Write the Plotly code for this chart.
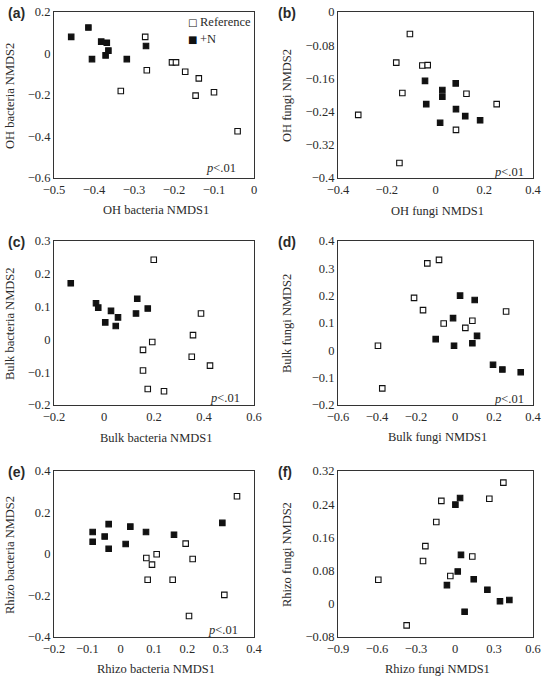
import plotly.graph_objects as go

W, H = 548, 681

# ---------------- data ----------------
# (a) OH bacteria
a_ref_x = [-0.272, -0.268, -0.333, -0.205, -0.195, -0.172, -0.138, -0.146, -0.100, -0.041]
a_ref_y = [0.080, -0.081, -0.181, -0.043, -0.043, -0.088, -0.120, -0.203, -0.187, -0.375]
a_n_x = [-0.457, -0.414, -0.382, -0.368, -0.364, -0.371, -0.405, -0.318, -0.270]
a_n_y = [0.080, 0.125, 0.057, 0.052, 0.014, -0.009, -0.027, -0.027, 0.036]

# (b) OH fungi
b_ref_x = [-0.105, -0.161, -0.054, -0.032, -0.136, 0.127, 0.251, -0.317, 0.084, -0.148]
b_ref_y = [-0.053, -0.122, -0.129, -0.128, -0.195, -0.197, -0.222, -0.248, -0.284, -0.364]
b_n_x = [-0.043, 0.083, 0.028, 0.028, -0.038, 0.084, 0.122, 0.183, 0.019]
b_n_y = [-0.166, -0.172, -0.188, -0.204, -0.222, -0.234, -0.251, -0.261, -0.267]

# (c) Bulk bacteria
c_ref_x = [0.199, 0.388, 0.356, 0.193, 0.156, 0.351, 0.424, 0.156, 0.175, 0.240]
c_ref_y = [0.243, 0.079, 0.013, -0.008, -0.032, -0.053, -0.080, -0.095, -0.151, -0.158]
c_n_x = [-0.133, -0.032, -0.023, 0.028, 0.056, 0.005, 0.047, 0.133, 0.128, 0.175]
c_n_y = [0.171, 0.110, 0.097, 0.087, 0.067, 0.052, 0.041, 0.124, 0.079, 0.094]

# (d) Bulk fungi
d_ref_x = [-0.142, -0.082, -0.210, -0.164, -0.058, 0.053, 0.089, 0.262, -0.395, -0.373]
d_ref_y = [0.318, 0.331, 0.192, 0.147, 0.098, 0.082, 0.108, 0.142, 0.017, -0.139]
d_n_x = [0.026, 0.101, -0.010, 0.113, -0.099, -0.005, 0.089, 0.195, 0.243, 0.337]
d_n_y = [0.200, 0.184, 0.118, 0.053, 0.041, 0.017, 0.026, -0.053, -0.070, -0.080]

# (e) Rhizo bacteria
e_ref_x = [0.349, 0.195, 0.108, 0.077, 0.094, 0.216, 0.081, 0.156, 0.311, 0.205]
e_ref_y = [0.278, 0.050, -0.001, -0.019, -0.051, -0.024, -0.124, -0.124, -0.197, -0.299]
e_n_x = [-0.084, -0.084, -0.048, -0.036, -0.036, 0.029, 0.015, 0.076, 0.160, 0.305]
e_n_y = [0.106, 0.059, 0.084, 0.144, 0.025, 0.132, 0.048, 0.106, 0.093, 0.150]

# (f) Rhizo fungi
f_ref_x = [0.372, 0.264, -0.105, -0.144, -0.228, -0.246, 0.133, -0.036, -0.590, -0.372]
f_ref_y = [0.292, 0.253, 0.248, 0.197, 0.139, 0.103, 0.114, 0.067, 0.058, -0.052]
f_n_x = [0.039, 0.003, 0.046, 0.021, -0.062, 0.144, 0.249, 0.346, 0.418, 0.074]
f_n_y = [0.255, 0.239, 0.118, 0.078, 0.045, 0.059, 0.034, 0.006, 0.009, -0.019]

panel_labels = ["(a)", "(b)", "(c)", "(d)", "(e)", "(f)"]
x_titles = ["OH bacteria NMDS1", "OH fungi NMDS1", "Bulk bacteria NMDS1",
            "Bulk fungi NMDS1", "Rhizo bacteria NMDS1", "Rhizo fungi NMDS1"]
y_titles = ["OH bacteria NMDS2", "OH fungi NMDS2", "Bulk bacteria NMDS2",
            "Bulk fungi NMDS2", "Rhizo bacteria NMDS2", "Rhizo fungi NMDS2"]
sig_labels = ["<i>p</i>&lt;.01", "<i>p</i>&lt;.01", "<i>p</i>&lt;.01",
              "<i>p</i>&lt;.01", "<i>p</i>&lt;.01", ""]
legend_names = ["Reference", "+N"]

a_xt = [-0.5, -0.4, -0.3, -0.2, -0.1, 0]
a_xl = ["−0.5", "−0.4", "−0.3", "−0.2", "−0.1", "0"]
a_yt = [-0.6, -0.4, -0.2, 0, 0.2]
a_yl = ["−0.6", "−0.4", "−0.2", "0", "0.2"]
b_xt = [-0.4, -0.2, 0, 0.2, 0.4]
b_xl = ["−0.4", "−0.2", "0", "0.2", "0.4"]
b_yt = [-0.4, -0.32, -0.24, -0.16, -0.08, 0]
b_yl = ["−0.4", "−0.32", "−0.24", "−0.16", "−0.08", "0"]
c_xt = [-0.2, 0, 0.2, 0.4, 0.6]
c_xl = ["−0.2", "0", "0.2", "0.4", "0.6"]
c_yt = [-0.2, -0.1, 0, 0.1, 0.2, 0.3]
c_yl = ["−0.2", "−0.1", "0", "0.1", "0.2", "0.3"]
d_xt = [-0.6, -0.4, -0.2, 0, 0.2, 0.4]
d_xl = ["−0.6", "−0.4", "−0.2", "0", "0.2", "0.4"]
d_yt = [-0.2, -0.1, 0, 0.1, 0.2, 0.3, 0.4]
d_yl = ["−0.2", "−0.1", "0", "0.1", "0.2", "0.3", "0.4"]
e_xt = [-0.2, -0.1, 0, 0.1, 0.2, 0.3, 0.4]
e_xl = ["−0.2", "−0.1", "0", "0.1", "0.2", "0.3", "0.4"]
e_yt = [-0.4, -0.2, 0, 0.2, 0.4]
e_yl = ["−0.4", "−0.2", "0", "0.2", "0.4"]
f_xt = [-0.9, -0.6, -0.3, 0, 0.3, 0.6]
f_xl = ["−0.9", "−0.6", "−0.3", "0", "0.3", "0.6"]
f_yt = [-0.08, 0, 0.08, 0.16, 0.24, 0.32]
f_yl = ["−0.08", "0", "0.08", "0.16", "0.24", "0.32"]

panels = [
    (a_ref_x, a_ref_y, a_n_x, a_n_y, a_xt, a_xl, a_yt, a_yl),
    (b_ref_x, b_ref_y, b_n_x, b_n_y, b_xt, b_xl, b_yt, b_yl),
    (c_ref_x, c_ref_y, c_n_x, c_n_y, c_xt, c_xl, c_yt, c_yl),
    (d_ref_x, d_ref_y, d_n_x, d_n_y, d_xt, d_xl, d_yt, d_yl),
    (e_ref_x, e_ref_y, e_n_x, e_n_y, e_xt, e_xl, e_yt, e_yl),
    (f_ref_x, f_ref_y, f_n_x, f_n_y, f_xt, f_xl, f_yt, f_yl),
]

# ---------------- layout geometry (pixels) ----------------
col_px = [(54, 254), (338, 533)]
row_px = [(12, 178), (241, 405), (471, 637)]
xtitle_off = [32, 33, 33, 32, 32, 32]     # px below axis to title centre
ytitle_off = [44, 51, 44, 51, 44, 51]     # px left of axis to title centre
sig_right = [16, 7, 12, 7, 14, 7]
sig_bottom = [10, 6, 7.5, 6.5, 7.5, 7]

SERIF = "Liberation Serif"
TXT = "#2a2a2a"
LINE = "#333333"

fig = go.Figure()
layout = dict(
    width=W, height=H,
    margin=dict(l=0, r=0, t=0, b=0, autoexpand=False),
    paper_bgcolor="white", plot_bgcolor="white",
    font=dict(family=SERIF, size=12.5, color=TXT),
    showlegend=False,
)
annotations = []

for i, (rx, ry, nx, ny, xt, xl, yt, yl) in enumerate(panels):
    r, c = divmod(i, 2)
    k = "" if i == 0 else str(i + 1)
    xa, ya = "x" + k, "y" + k
    x0, x1 = col_px[c]
    y0, y1 = row_px[r]
    fig.add_trace(go.Scatter(
        x=rx, y=ry, mode="markers", xaxis=xa, yaxis=ya, name=legend_names[0],
        marker=dict(symbol="square", size=5.5, color="white",
                    line=dict(color="#111111", width=1.1)),
        cliponaxis=False,
    ))
    fig.add_trace(go.Scatter(
        x=nx, y=ny, mode="markers", xaxis=xa, yaxis=ya, name=legend_names[1],
        marker=dict(symbol="square", size=5.5, color="#111111",
                    line=dict(color="#111111", width=1.1)),
        cliponaxis=False,
    ))
    common = dict(showgrid=False, zeroline=False, showline=True, mirror=True,
                  linecolor=LINE, linewidth=1.2, ticks="", automargin=False,
                  tickfont=dict(family=SERIF, size=12.5, color=TXT))
    layout["xaxis" + k] = dict(
        common, domain=[x0 / W, x1 / W], anchor=ya,
        range=[xt[0], xt[-1]], tickmode="array", tickvals=xt, ticktext=xl,
    )
    layout["yaxis" + k] = dict(
        common, domain=[1 - y1 / H, 1 - y0 / H], anchor=xa,
        range=[yt[0], yt[-1]], tickmode="array", tickvals=yt, ticktext=yl,
    )
    # axis titles
    annotations.append(dict(
        text=x_titles[i], xref="paper", yref="paper",
        x=((x0 + x1) / 2 + 2) / W, xanchor="center",
        y=1 - (y1 + xtitle_off[i]) / H, yanchor="middle", showarrow=False,
        font=dict(family=SERIF, size=12.5, color=TXT),
    ))
    annotations.append(dict(
        text=y_titles[i], xref="paper", yref="paper", textangle=-90,
        x=(x0 - ytitle_off[i]) / W, xanchor="center",
        y=1 - ((y0 + y1) / 2 + 1) / H, yanchor="middle", showarrow=False,
        font=dict(family=SERIF, size=12.5, color=TXT),
    ))
    # panel label
    annotations.append(dict(
        text="<b>%s</b>" % panel_labels[i], xref="paper", yref="paper",
        x=(6 if c == 0 else 276) / W, xanchor="left",
        y=1 - (y0 + 1) / H, yanchor="middle", showarrow=False,
        font=dict(family="Liberation Sans", size=14, color=TXT),
    ))
    # significance
    if sig_labels[i]:
        annotations.append(dict(
            text=sig_labels[i], xref=xa + " domain", yref=ya + " domain",
            x=1 - sig_right[i] / (x1 - x0), xanchor="right",
            y=sig_bottom[i] / (y1 - y0), yanchor="middle",
            showarrow=False, font=dict(family=SERIF, size=12.5, color=TXT),
        ))

# legend (inside panel a, top right)
for j, (sym, name) in enumerate(zip(["□", "■"], legend_names)):
    ypx = 22 + 17 * j
    annotations.append(dict(
        text=sym, xref="paper", yref="paper", x=192 / W, xanchor="center",
        y=1 - ypx / H, yanchor="middle", showarrow=False,
        font=dict(family="DejaVu Sans", size=10, color="#111111"),
    ))
    annotations.append(dict(
        text=name, xref="paper", yref="paper", x=198 / W, xanchor="left",
        y=1 - ypx / H, yanchor="middle", showarrow=False,
        font=dict(family=SERIF, size=12.5, color=TXT),
    ))

layout["annotations"] = annotations
fig.update_layout(**layout)
fig.write_html(
    "out.html",
    config={"displayModeBar": False},
    post_script="document.body.style.margin='0';document.body.style.padding='0';"
                "document.documentElement.style.overflow='hidden';",
)
